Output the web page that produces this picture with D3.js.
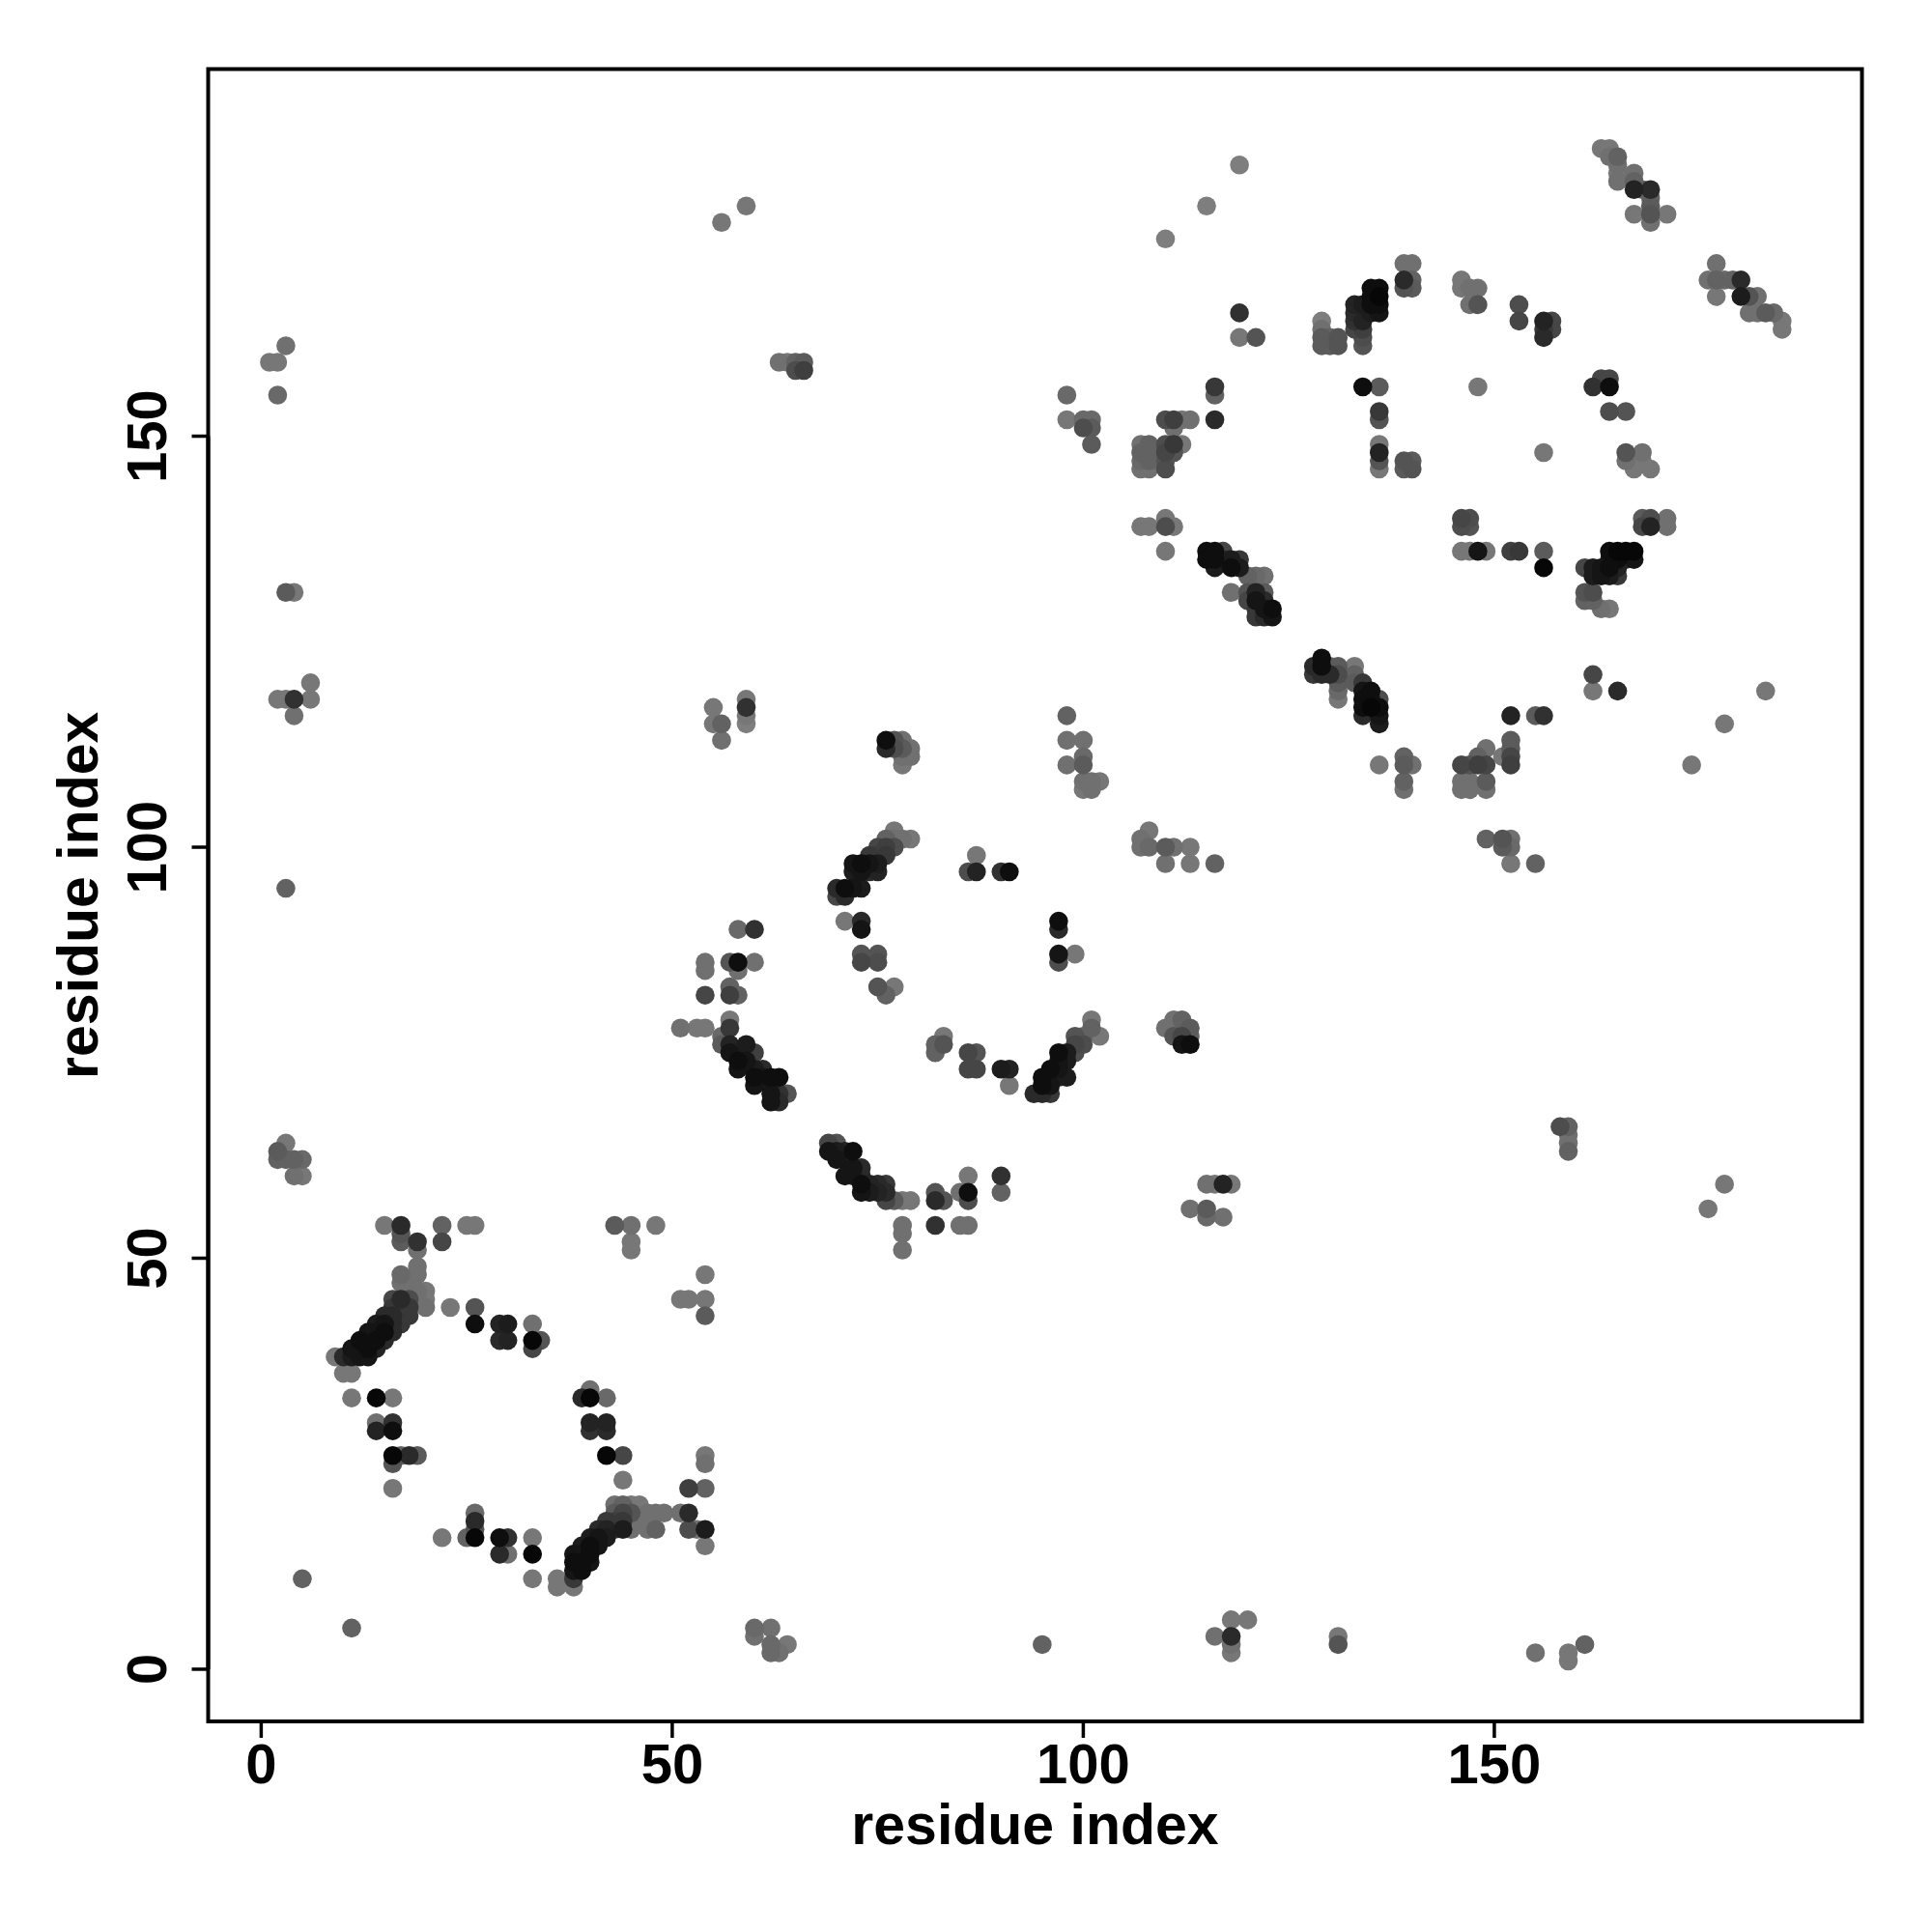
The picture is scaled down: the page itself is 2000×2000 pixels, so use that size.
<!DOCTYPE html>
<html>
<head>
<meta charset="utf-8">
<script src="https://cdn.jsdelivr.net/npm/d3@7"></script>
<style>
  html, body { margin: 0; padding: 0; background: #ffffff; }
  svg { display: block; }
  text { font-family: "Liberation Sans", Arial, Helvetica, sans-serif; font-weight: bold; }
</style>
</head>
<body>
<svg id="chart" width="2000" height="2000"></svg>
<script>
// ---- data: contacts as [residue i, residue j, contact score] ----
const edgeContacts = [
  [3,161,.2],[1,159,.15],[2,159,.15],[2,155,.25],[3,131,.35],[4,131,.15],
  [6,120,.15],[2,118,.15],[3,118,.15],[4,118,.65],[6,118,.15],[4,116,.2],
  [3,95,.3],
  [3,64,.15],[2,63,.35],[2,62,.3],[3,62,.3],[4,62,.3],[5,62,.25],[4,60,.2],[5,60,.15],
  [5,11,.3],[11,5,.3],
  [59,178,.15],[56,176,.15],[63,159,.2],[64,159,.15],[65,159,.3],[66,159,.35],[65,158,.45],[66,158,.55],
  [55,117,.15],[55,115,.15],[56,115,.3],[56,113,.2],[59,118,.15],[59,117,.65],[59,116,.15],[59,115,.1],
  [119,183,.1],[115,178,.1],[110,174,.1],
  [174,110,.15],[178,115,.15],[183,119,.15],
  [178,59,.15],[176,56,.15],[155,2,.2],[159,2,.15],[159,1,.15],[161,3,.3],
  [158,66,.45],[159,66,.3],[159,65,.2],[159,64,.2],[159,63,.3],
  [115,59,.2],[116,59,.15],[117,59,.75],[118,59,.15],[113,56,.2],[115,56,.35],[115,55,.25],[117,55,.2],
  [118,6,.15],[120,6,.15],[116,4,.2],[118,4,.7],[118,3,.2],[118,2,.15],[131,4,.15],[131,3,.4],[95,3,.3],
  [60,5,.25],[60,4,.2],[62,5,.2],[62,3,.25],[62,2,.25],[63,2,.2],[64,3,.15]
];

const ringA = [
  [15,54,.15],[17,54,.7],[17,53,.4],[17,52,.35],[19,52,.65],[22,54,.3],[22,52,.5],[25,54,.15],[26,54,.15],[19,51,.2],
  [19,49,.2],[19,48,.2],[17,48,.25],[17,47,.2],[18,47,.2],[19,46,.2],[20,46,.15],[20,45,.15],[20,44,.2],[19,45,.2],
  [23,44,.15],[26,44,.4],[26,42,.9],[29,42,.75],[30,42,.8],[29,40,.7],[30,40,.75],[33,42,.2],[33,40,.95],[34,40,.4],[33,39,.5],
  [9,38,.15],[10,36,.15],[11,36,.15],[10,38,.7],[11,38,.8],[12,38,.85],[13,38,.85],[12,39,.85],[13,39,.9],[14,39,.75],
  [13,40,.85],[14,40,.9],[15,40,.7],[14,41,.85],[15,41,.9],[16,41,.7],[15,42,.85],[16,42,.7],[17,42,.6],[16,43,.7],
  [17,43,.5],[18,43,.6],[17,44,.4],[18,44,.6],[17,45,.7],[18,45,.45],
  [11,39,.85],[12,40,.9],[13,41,.85],[14,42,.8],[15,43,.7],[16,44,.6],[16,45,.5],
  [11,33,.15],[14,33,.95],[16,33,.15],[14,30,.2],[16,30,.65],[14,29,.75],[16,29,.9],[16,26,.95],[17,26,.3],[18,26,.7],
  [19,26,.35],[16,25,.4],[16,22,.15],
  [26,19,.25],[26,18,.7],[26,17,.4],[26,16,.95],[22,16,.15],[25,16,.3],[29,16,.9],[30,16,.65],[29,14,.7],[30,14,.2],
  [33,16,.15],[33,14,.95],[33,11,.15],[36,11,.15],[36,10,.15],[38,10,.15],
  [38,11,.6],[38,12,.85],[38,13,.9],[38,14,.85],[39,12,.9],[39,13,.9],[39,14,.85],[39,15,.8],[40,13,.85],[40,14,.9],
  [40,15,.9],[40,16,.8],[41,15,.85],[41,16,.85],[41,17,.7],[42,16,.8],[42,17,.75],[42,18,.6],[43,17,.6],[43,18,.55],
  [43,19,.35],[43,20,.2],
  [39,33,.7],[40,34,.2],[40,33,.95],[42,33,.25],[40,30,.75],[42,30,.75],[40,29,.65],[42,29,.7],[42,26,.95],[44,26,.5],
  [44,23,.15],[43,54,.35],
  [45,54,.2],[48,54,.15],[45,52,.15],[45,51,.15],
  [54,48,.15],[51,45,.15],[52,45,.15],[54,45,.15],[54,43,.35],
  [54,26,.15],[54,25,.2],[52,22,.55],[54,22,.3],
  [44,20,.3],[45,20,.15],[46,20,.15],[47,19,.2],[48,19,.2],[49,19,.2],[44,19,.5],[45,19,.4],[46,18,.2],[44,18,.6],
  [45,17,.2],[47,17,.2],[48,17,.3],[44,17,.8],
  [51,19,.2],[52,19,.7],[52,17,.45],[53,17,.2],[54,17,.8],[54,15,.15]
];

const ringB = [
  [76,113,.9],[76,112,.7],[77,113,.4],[77,112,.45],[78,113,.2],[78,112,.35],[79,112,.2],[78,111,.2],[79,111,.2],[78,110,.15],
  [77,102,.15],[76,101,.3],[77,101,.2],[78,101,.2],[79,101,.15],[75,100,.5],[76,100,.55],[77,100,.45],[74,99,.6],[75,99,.55],
  [76,99,.6],[72,98,.85],[73,98,.9],[74,98,.85],[75,98,.8],[72,97,.8],[73,97,.85],[74,97,.7],[75,97,.75],[70,95,.7],
  [71,95,.9],[72,95,.85],[73,95,.8],[70,94,.5],[71,94,.7],
  [87,99,.15],[86,97,.45],[87,97,.75],[90,97,.65],[91,97,.9],
  [71,91,.15],[73,91,.7],[73,90,.85],
  [58,90,.25],[60,90,.65],
  [54,86,.2],[54,85,.2],[57,86,.4],[58,86,.9],[60,86,.2],[58,85,.2],
  [54,82,.5],[57,83,.3],[57,82,.55],[58,82,.3],
  [73,87,.4],[75,87,.4],[73,86,.5],[75,86,.45],
  [75,83,.4],[77,83,.15],[76,82,.3],
  [51,78,.2],[53,78,.15],[54,78,.15],[57,79,.15],[57,78,.6],[56,77,.25],[56,76,.35],[57,76,.75],[57,75,.85],[58,75,.75],
  [59,76,.8],[60,75,.55],[58,74,.9],[59,74,.85],[58,73,.85],[60,73,.8],[61,73,.7],[60,72,.9],[61,72,.85],[62,72,.9],
  [63,72,.9],[60,71,.85],[62,71,.7],[62,70,.85],[63,70,.65],[64,70,.4],[62,69,.85],[63,69,.7],
  [82,75,.3],[83,77,.15],[82,76,.3],[83,76,.4],[86,75,.5],[87,75,.4],[86,73,.5],[87,73,.5],[90,73,.8],[91,73,.75],
  [91,71,.15],
  [69,64,.5],[70,64,.4],[69,63,.85],[70,63,.8],[71,63,.75],[72,63,.9],[70,62,.85],[71,62,.8],[72,61,.85],[73,61,.7],
  [71,60,.85],[72,60,.8],[73,60,.7],[73,59,.9],[74,59,.75],[75,59,.7],[76,59,.6],[73,58,.85],[74,58,.8],[75,58,.75],
  [76,58,.7],[76,57,.5],[77,57,.35],[78,57,.15],[79,57,.15],
  [78,54,.2],[78,53,.2],[78,51,.2],[82,58,.4],[82,57,.7],[83,57,.4],[82,54,.65],[85,58,.2],[86,58,.9],[86,57,.45],
  [86,60,.15],[85,54,.2],[86,54,.2],[90,60,.65],[90,58,.3],
  [98,116,.3],[98,113,.2],[100,113,.2],[98,110,.2],[100,111,.25],[100,110,.35],[100,108,.2],[101,108,.2],[102,108,.15],
  [100,107,.15],[101,107,.2],
  [107,101,.2],[108,102,.15],[107,100,.2],[108,100,.25],[110,100,.35],[111,100,.2],[113,100,.15],[110,98,.2],[113,98,.15],
  [116,98,.3],
  [97,91,.9],[97,90,.7],[97,87,.85],[97,86,.45],[99,87,.15],
  [101,79,.15],[102,77,.15],[99,77,.4],[100,77,.3],[101,78,.3],[99,76,.5],[100,76,.45],[97,75,.9],[98,75,.8],[99,75,.45],
  [97,74,.85],[98,74,.8],[96,73,.9],[97,73,.85],[97,72,.75],[98,72,.8],[95,72,.9],[95,71,.9],[96,71,.85],[95,70,.7],
  [96,70,.6],[94,70,.7],
  [110,78,.2],[111,79,.2],[112,79,.3],[113,78,.35],[111,77,.4],[112,77,.5],[113,77,.3],[112,76,.85],[113,76,.9]
];

const ringC = [
  [139,171,.2],[140,171,.2],[139,169,.7],[140,169,.3],[139,168,.4],[140,168,.35],
  [133,166,.75],[133,165,.7],[133,164,.65],[133,163,.5],[134,166,.8],[134,165,.7],[134,164,.75],[134,163,.55],[134,162,.45],
  [134,161,.4],[135,168,.9],[136,168,.9],[135,167,.9],[136,167,.95],[135,166,.9],[136,166,.9],[136,165,.85],[135,165,.8],
  [129,164,.1],[129,163,.2],[129,162,.35],[129,161,.35],[130,161,.35],[131,162,.4],[131,161,.4],[130,162,.3],
  [119,165,.65],[119,162,.15],[121,162,.4],
  [134,156,.9],[136,156,.35],[136,153,.6],[136,152,.4],
  [136,149,.15],[136,148,.75],[136,147,.4],[136,146,.15],
  [139,147,.4],[140,147,.35],[139,146,.35],[140,146,.4],
  [116,156,.6],[116,155,.3],[116,152,.7],
  [98,155,.25],[98,152,.15],[100,152,.25],[101,152,.25],[100,151,.45],[101,151,.35],[101,149,.35],
  [110,152,.45],[111,152,.55],[112,152,.15],[113,152,.2],[111,151,.2],
  [107,149,.2],[108,149,.3],[110,149,.45],[111,149,.6],[112,149,.15],
  [107,148,.3],[108,148,.3],[110,148,.5],[111,148,.4],
  [107,147,.25],[108,147,.3],[110,147,.4],
  [107,146,.2],[108,146,.2],[110,146,.45],
  [107,139,.15],[108,139,.15],[110,140,.15],[110,139,.45],[111,139,.15],
  [110,136,.15],
  [115,136,.9],[116,136,.9],[117,136,.5],[115,135,.9],[116,135,.9],[116,134,.8],[117,135,.7],[118,135,.8],[119,135,.6],
  [118,134,.9],[119,134,.8],[120,133,.3],[121,133,.25],[122,133,.2],[118,131,.2],[120,131,.4],[121,131,.75],[122,131,.35],
  [120,130,.5],[121,130,.85],[122,130,.7],[121,129,.6],[122,129,.85],[123,129,.9],[121,128,.6],[122,128,.7],[123,128,.85],
  [163,185,.15],[164,185,.15],[164,184,.2],[165,184,.3],[165,183,.2],[165,182,.15],[165,181,.2],[167,182,.2],[167,181,.3],
  [167,180,.75],[168,180,.3],[169,180,.7],[169,179,.3],[169,178,.35],[169,177,.4],[169,176,.2],[167,177,.15],[171,177,.15],
  [177,171,.2],[176,169,.2],[177,169,.3],[178,169,.25],[179,169,.3],[180,169,.7],[177,167,.15],[180,167,.8],[181,167,.4],
  [182,167,.2],[181,165,.2],[182,165,.2],[183,165,.35],[184,165,.25],[185,164,.15],[185,163,.15],
  [146,169,.15],[146,168,.15],[147,168,.2],[148,168,.2],[147,166,.2],[148,166,.4],
  [153,166,.45],[153,164,.5],
  [156,164,.75],[157,164,.5],[156,163,.6],[157,163,.5],[156,162,.7],
  [148,156,.15],
  [162,156,.65],[163,157,.5],[164,157,.5],[164,156,.9],
  [164,153,.45],[166,153,.4],
  [156,148,.15],
  [166,148,.4],[166,147,.2],[168,148,.2],[168,147,.15],[169,146,.15],[167,146,.15],
  [146,140,.5],[147,140,.45],[146,139,.45],[147,139,.4],
  [146,136,.15],[147,136,.15],[148,136,.85],[149,136,.15],
  [152,136,.55],[153,136,.6],
  [156,136,.35],[156,134,.95],
  [168,140,.35],[169,140,.45],[171,140,.2],[168,139,.5],[169,139,.75],[171,139,.2],
  [164,136,.9],[165,136,.95],[166,136,.95],[167,136,.95],[164,135,.85],[165,135,.9],[166,135,.75],[167,135,.85],
  [161,134,.5],[162,134,.8],[163,134,.85],[164,134,.9],[165,134,.75],[162,133,.8],[163,133,.85],[164,133,.8],[165,133,.6],
  [161,131,.4],[162,131,.45],[161,130,.3],[162,130,.3],[163,129,.2],[164,129,.15],
  [128,122,.7],[128,121,.6],[129,123,.9],[129,122,.9],[129,121,.7],[130,122,.3],[130,121,.7],[131,122,.35],[131,121,.45],
  [131,120,.35],[131,119,.25],[131,118,.15],[133,122,.15],[133,121,.3],[133,120,.35],[134,120,.6],[134,119,.85],[135,119,.9],
  [134,118,.9],[135,118,.85],[136,118,.45],[134,117,.9],[135,117,.95],[136,117,.9],[136,116,.85],[134,116,.7],[136,115,.8],
  [136,110,.15],[139,111,.3],[140,110,.2],[139,110,.35],[139,108,.3],[139,107,.2],
  [162,121,.5],[162,119,.15],[165,119,.7],
  [152,116,.75],[155,116,.35],[156,116,.65],
  [152,113,.35],[152,112,.35],[152,111,.5],[152,110,.55],[151,111,.15],
  [149,112,.2],[148,111,.3],[146,110,.5],[147,110,.4],[148,110,.55],[149,110,.5],[146,108,.2],[147,108,.2],[149,108,.35],
  [146,107,.2],[147,107,.2],[149,107,.2],
  [149,101,.3],[151,101,.4],[152,101,.2],[151,100,.35],[152,100,.25],[152,98,.15],[155,98,.3]
];

const xTicks = [0, 50, 100, 150];
const yTicks = [0, 50, 100, 150];
const xLabel = "residue index";
const yLabel = "residue index";

// ---- layout ----
const svg = d3.select("#chart");
const box = { left: 215.5, right: 1927.5, top: 71.5, bottom: 1782 };

const x = d3.scaleLinear().domain([-6.45, 194.72]).range([box.left, box.right]);
const y = d3.scaleLinear().domain([-6.35, 194.66]).range([box.bottom, box.top]);
const grey = d3.scaleLinear().domain([0, 1]).range(["#8c8c8c", "#000000"]);

const all = [].concat(edgeContacts, ringA, ringB, ringC)
  .map(d => ({ i: d[0], j: d[1], p: d[2] }))
  .sort((a, b) => a.p - b.p);

svg.append("rect").attr("x", 0).attr("y", 0).attr("width", 2000).attr("height", 2000).attr("fill", "#fff");

svg.append("g")
  .selectAll("circle")
  .data(all)
  .join("circle")
  .attr("cx", d => x(d.i))
  .attr("cy", d => y(d.j))
  .attr("r", 9.8)
  .attr("fill", d => grey(d.p));

// frame
svg.append("rect")
  .attr("x", box.left).attr("y", box.top)
  .attr("width", box.right - box.left).attr("height", box.bottom - box.top)
  .attr("fill", "none").attr("stroke", "#000").attr("stroke-width", 4);

// x axis
const gx = svg.append("g");
gx.append("line")
  .attr("x1", x(xTicks[0])).attr("x2", x(xTicks[xTicks.length - 1]))
  .attr("y1", box.bottom).attr("y2", box.bottom)
  .attr("stroke", "#000").attr("stroke-width", 4);
gx.selectAll("line.tick").data(xTicks).join("line").attr("class", "tick")
  .attr("x1", d => x(d)).attr("x2", d => x(d))
  .attr("y1", box.bottom).attr("y2", box.bottom + 17)
  .attr("stroke", "#000").attr("stroke-width", 3.5);
gx.selectAll("text").data(xTicks).join("text")
  .attr("x", d => x(d)).attr("y", 1846)
  .attr("text-anchor", "middle")
  .attr("font-size", 58)
  .text(d => d);

// y axis
const gy = svg.append("g");
gy.append("line")
  .attr("y1", y(yTicks[0])).attr("y2", y(yTicks[yTicks.length - 1]))
  .attr("x1", box.left).attr("x2", box.left)
  .attr("stroke", "#000").attr("stroke-width", 4);
gy.selectAll("line.tick").data(yTicks).join("line").attr("class", "tick")
  .attr("y1", d => y(d)).attr("y2", d => y(d))
  .attr("x1", box.left).attr("x2", box.left - 17)
  .attr("stroke", "#000").attr("stroke-width", 3.5);
gy.selectAll("text").data(yTicks).join("text")
  .attr("transform", d => `translate(172,${y(d)}) rotate(-90)`)
  .attr("text-anchor", "middle")
  .attr("font-size", 58)
  .text(d => d);

// axis titles
svg.append("text")
  .attr("x", (box.left + box.right) / 2).attr("y", 1909)
  .attr("text-anchor", "middle").attr("font-size", 59)
  .text(xLabel);
svg.append("text")
  .attr("transform", `translate(101,${(box.top + box.bottom) / 2}) rotate(-90)`)
  .attr("text-anchor", "middle").attr("font-size", 59)
  .text(yLabel);
</script>
</body>
</html>
